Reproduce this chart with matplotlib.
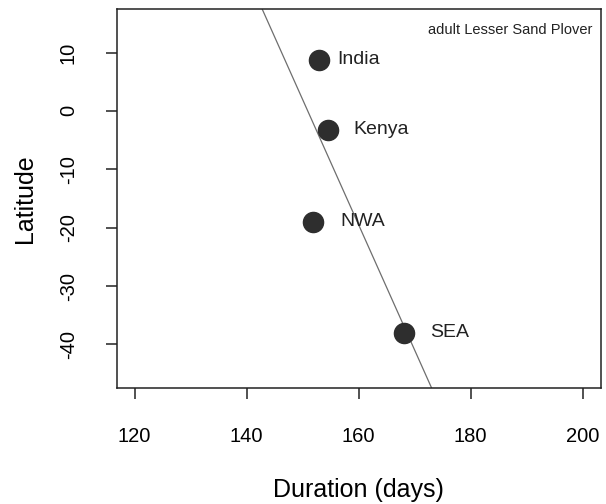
import numpy as np
import matplotlib
matplotlib.use("Agg")
import matplotlib.pyplot as plt

plt.rcParams["font.family"] = ["Liberation Sans", "DejaVu Sans"]

sites = ["India", "Kenya", "NWA", "SEA"]
duration = [152.9, 154.6, 151.9, 168.1]
latitude = [8.8, -3.2, -19.0, -38.0]
label_x = [156.2, 159.1, 156.8, 172.7]

# fitted line lat ~ duration
fit_intercept = 323.7
fit_slope = -2.145

fig = plt.figure(figsize=(6.06, 5.04), dpi=100)
ax = fig.add_axes([0.1926, 0.2308, 0.7984, 0.7507])

xs = np.array([100.0, 220.0])
ax.plot(xs, fit_intercept + fit_slope * xs, color="#6e6e6e", lw=0.9, zorder=1)
ax.plot(duration, latitude, "o", ms=14.5, color="#2e2e2e", mec="#2e2e2e", zorder=2)
for s, lx, y in zip(sites, label_x, latitude):
    ax.text(lx, y, s, fontsize=14, ha="left", va="center", color="#222222")

ax.text(0.983, 0.945, "adult Lesser Sand Plover", transform=ax.transAxes,
        fontsize=10.5, ha="right", va="center", color="#222222")

ax.set_xlim(116.8, 203.2)
ax.set_ylim(-47.4, 17.4)
ax.set_xticks([120, 140, 160, 180, 200])
ax.set_yticks([-40, -30, -20, -10, 0, 10])
ax.set_yticklabels(["-40", "-30", "-20", "-10", "0", "10"], rotation=90, va="center")
ax.tick_params(axis="both", length=8, width=1.1, labelsize=14.5, color="#222222")
ax.tick_params(axis="x", pad=20)
ax.tick_params(axis="y", pad=20)
for sp in ax.spines.values():
    sp.set_linewidth(1.1)
    sp.set_color("#222222")

ax.set_xlabel("Duration (days)", fontsize=18, labelpad=23)
ax.set_ylabel("Latitude", fontsize=18, labelpad=16)

fig.savefig("out.png", dpi=100)
